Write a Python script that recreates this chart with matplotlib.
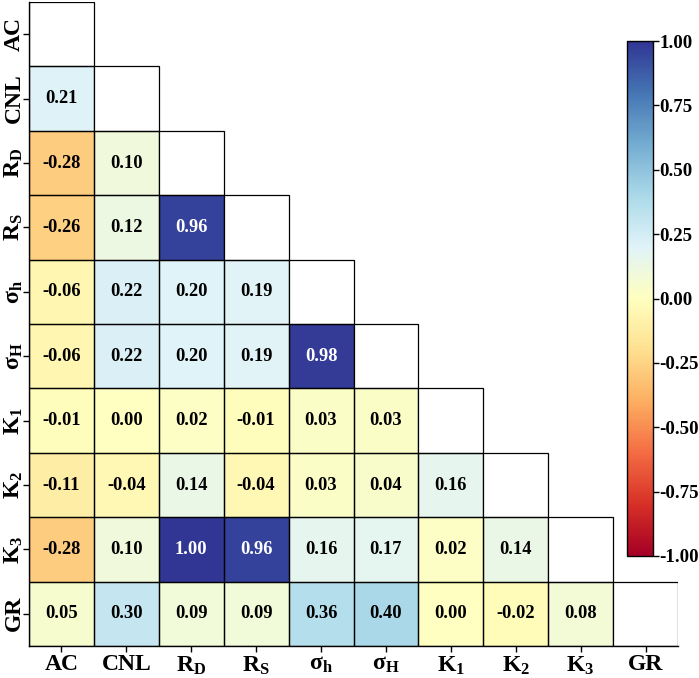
import numpy as np
import matplotlib
matplotlib.use("Agg")
import matplotlib.pyplot as plt
from matplotlib.colors import Normalize
from matplotlib.patches import Rectangle

plt.rcParams['font.family'] = ['Liberation Serif', 'DejaVu Serif']
plt.rcParams['font.weight'] = 'bold'
plt.rcParams['mathtext.fontset'] = 'custom'
plt.rcParams['mathtext.rm'] = 'Liberation Serif:bold'
plt.rcParams['mathtext.bf'] = 'Liberation Serif:bold'
plt.rcParams['mathtext.it'] = 'Liberation Serif:bold'

labels = ['AC', 'CNL', r'$\mathrm{R_D}$', r'$\mathrm{R_S}$', r'$\mathrm{σ_h}$',
          r'$\mathrm{σ_H}$', r'$\mathrm{K_1}$', r'$\mathrm{K_2}$', r'$\mathrm{K_3}$', 'GR']

row_CNL = [0.21]
row_RD = [-0.28, 0.10]
row_RS = [-0.26, 0.12, 0.96]
row_sh = [-0.06, 0.22, 0.20, 0.19]
row_sH = [-0.06, 0.22, 0.20, 0.19, 0.98]
row_K1 = [-0.01, 0.00, 0.02, -0.01, 0.03, 0.03]
row_K2 = [-0.11, -0.04, 0.14, -0.04, 0.03, 0.04, 0.16]
row_K3 = [-0.28, 0.10, 1.00, 0.96, 0.16, 0.17, 0.02, 0.14]
row_GR = [0.05, 0.30, 0.09, 0.09, 0.36, 0.40, 0.00, -0.02, 0.08]
rows = [[], row_CNL, row_RD, row_RS, row_sh, row_sH, row_K1, row_K2, row_K3, row_GR]
cbar_ticks = [-1.0, -0.75, -0.5, -0.25, 0.0, 0.25, 0.5, 0.75, 1.0]

n = len(labels)
M = np.full((n, n), np.nan)
for i, r in enumerate(rows):
    for j, v in enumerate(r):
        M[i, j] = v
lower = np.ma.masked_invalid(M)

fig = plt.figure(figsize=(6.99, 6.78), dpi=100)
ax = fig.add_axes([29/699, 1-646/678, 649/699, 644/678])
cmap = plt.get_cmap('RdYlBu')
norm = Normalize(-1, 1)
mesh = ax.pcolormesh(np.arange(n+1), np.arange(n+1), lower, cmap=cmap, norm=norm,
                     edgecolors='none')
# cell borders for the lower triangle and the diagonal
for i in range(n):
    for j in range(i + 1):
        ax.add_patch(Rectangle((j, i), 1, 1, facecolor='white' if i == j else 'none',
                               edgecolor='black', linewidth=0.9, zorder=3))
ax.set_xlim(0, n)
ax.set_ylim(n, 0)

for i in range(n):
    for j in range(n):
        if not np.isnan(M[i, j]):
            v = M[i, j]
            col = 'white' if abs(v) > 0.9 else 'black'
            ax.text(j + 0.5, i + 0.5, f'{v:.2f}', ha='center', va='center',
                    fontsize=13.3, fontweight='bold', color=col, zorder=4)

ax.set_xticks(np.arange(n) + 0.5)
ax.set_yticks(np.arange(n) + 0.5)
ax.set_xticklabels(labels, fontsize=17, fontweight='bold')
ax.set_yticklabels(labels, fontsize=17, fontweight='bold', rotation=90, va='center')
ax.tick_params(axis='both', length=4, width=1, color='black')
ax.tick_params(axis='y', pad=-1)
ax.tick_params(axis='x', pad=2)
for s in ['top', 'right']:
    ax.spines[s].set_visible(False)
for s in ['left', 'bottom']:
    ax.spines[s].set_linewidth(1.0)
    ax.spines[s].set_zorder(5)

cax = fig.add_axes([627/699, 1-556/678, 26/699, 515/678])
cb = fig.colorbar(mesh, cax=cax, ticks=cbar_ticks)
cb.ax.set_yticklabels([f'{t:.2f}' for t in cbar_ticks], fontsize=13.6, fontweight='bold')
cb.ax.tick_params(length=4, width=1, pad=0.5)
cb.outline.set_linewidth(1.0)

fig.savefig('out.png', dpi=100)
